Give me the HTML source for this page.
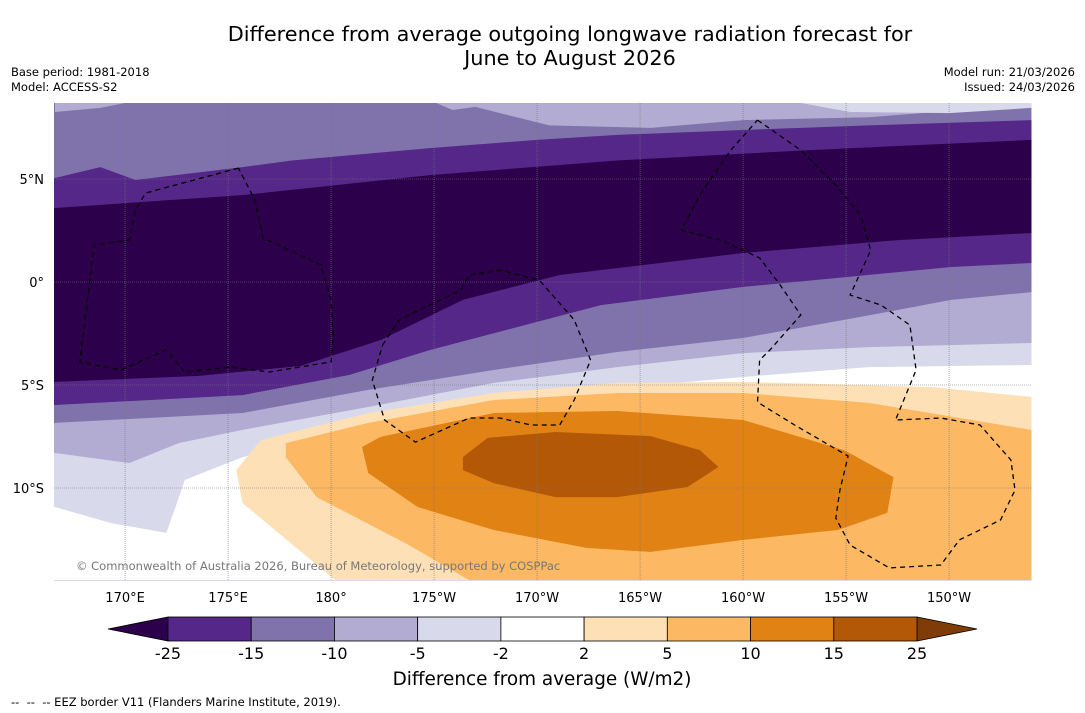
<!DOCTYPE html>
<html><head><meta charset="utf-8"><style>
body{margin:0;background:#fff;font-family:"DejaVu Sans","Liberation Sans",sans-serif;}
#wrap{position:relative;width:1085px;height:713px;overflow:hidden;background:#fff}
.t{position:absolute;color:#000;white-space:nowrap}
svg text{font-family:"DejaVu Sans","Liberation Sans",sans-serif}
</style></head><body>
<div id="wrap">
<div class="t" style="left:0;width:1140px;text-align:center;top:22px;font-size:20.8px;line-height:24px">Difference from average outgoing longwave radiation forecast for<br>June to August 2026</div>
<div class="t" style="left:11px;top:65px;font-size:11.5px;line-height:15px">Base period: 1981-2018<br>Model: ACCESS-S2</div>
<div class="t" style="right:10px;top:65px;font-size:11.5px;line-height:15px;text-align:right">Model run: 21/03/2026<br>Issued: 24/03/2026</div>
<div class="t" style="left:11px;top:695px;font-size:11.5px">--&nbsp; --&nbsp; -- EEZ border V11 (Flanders Marine Institute, 2019).</div>
<svg id="svg" width="1085" height="713" style="position:absolute;left:0;top:0"></svg>
</div>
<script>
const lonMin=166.55,lonMax=214.0,latMax=8.69,latMin=-14.47;
const X=lon=>54+(lon-lonMin)*20.6, Y=lat=>282-lat*20.6;
const L2=[[166.6,5.05],[168.8,5.58],[170.5,4.95],[175.7,5.58],[178.1,5.9],[184.8,6.5],[190.0,6.9],[193.9,7.14],[200.0,7.38],[206.1,7.6],[214.0,7.86]];
const L3=[[166.6,3.59],[175.7,4.22],[184.8,5.19],[193.9,5.9],[203.1,6.4],[214.0,6.9]];
const L4=[[166.6,-4.85],[173.6,-4.56],[178.5,-4.08],[182.4,-2.82],[186.4,-0.87],[191.1,0.34],[200.0,1.41],[207.6,2.04],[214.0,2.38]];
const L5=[[166.6,-5.97],[175.7,-5.49],[180.9,-4.51],[184.8,-3.3],[188.5,-2.33],[193.1,-1.12],[200.0,-0.24],[210.1,0.73],[214.0,0.92]];
const L6=[[166.6,-6.84],[175.7,-6.36],[181.8,-5.24],[187.9,-4.27],[193.9,-3.4],[200.0,-2.72],[206.2,-1.6],[210.1,-0.87],[214.0,-0.49]];
const L7=[[166.6,-8.3],[170.2,-8.79],[172.6,-7.82],[175.7,-7.18],[181.8,-6.07],[187.9,-4.9],[193.9,-4.13],[200.0,-3.45],[206.1,-3.16],[214.0,-2.96]];
const L8=[[166.6,-10.92],[169.3,-11.7],[172.0,-12.18],[172.4,-11.07],[172.9,-9.61],[175.7,-8.5],[181.8,-7.18],[187.9,-6.07],[193.9,-5.15],[200.0,-4.61],[206.1,-4.13],[214.0,-4.03]];
const O1=[[180.2,-14.47],[175.7,-10.73],[175.4,-9.13],[176.6,-7.67],[181.8,-6.36],[187.9,-5.39],[193.9,-4.9],[200.0,-4.85],[209.2,-5.1],[214.0,-5.58],[214.0,-14.47]];
const O2=[[186.7,-14.47],[183.6,-12.67],[179.3,-10.44],[177.8,-8.5],[177.8,-7.82],[181.8,-6.84],[187.9,-5.73],[193.9,-5.39],[200.0,-5.39],[206.1,-5.87],[214.0,-7.18],[214.0,-14.47]];
const O3=[[181.5,-8.01],[182.4,-7.52],[187.9,-6.36],[193.9,-6.26],[200.0,-6.7],[204.9,-8.16],[207.3,-9.47],[207.0,-11.21],[204.6,-12.04],[200.0,-12.52],[195.5,-13.1],[192.4,-12.91],[187.9,-12.04],[184.2,-10.92],[181.8,-9.27]];
const O4=[[186.4,-8.5],[187.6,-7.57],[190.9,-7.28],[195.5,-7.48],[197.9,-8.16],[198.8,-8.98],[197.3,-9.95],[193.9,-10.44],[190.9,-10.44],[187.9,-9.76],[186.4,-9.13]];
const topB=[[185.1,8.69],[185.9,8.35],[187.0,8.5],[188.2,8.2],[190.6,7.6],[195.5,7.48],[200.0,7.86],[206.1,8.0],[214.0,8.6],[214.0,8.69]];
const topL=[[166.6,8.69],[166.6,8.25],[168.8,8.45],[170.0,8.69]];
const topD=[[202.8,8.69],[205.2,8.25],[210.0,8.2],[214.0,8.45],[214.0,8.69]];
const eez1=[[175.5,5.53],[171.0,4.32],[170.5,3.5],[170.2,2.04],[168.5,1.8],[167.8,-3.88],[169.8,-4.27],[172.0,-3.3],[172.9,-4.37],[175.1,-4.13],[177.0,-4.37],[180.0,-3.88],[180.1,-2.57],[180.0,-0.87],[179.5,0.83],[176.7,2.14],[176.3,3.98],[175.5,5.53]];
const eez2=[[182.5,-3.06],[183.3,-1.84],[186.3,-0.39],[186.7,0.34],[188.2,0.58],[190.1,0.1],[191.8,-1.84],[192.6,-3.79],[191.8,-5.73],[191.1,-6.94],[189.7,-6.94],[188.2,-6.6],[186.7,-6.6],[184.1,-7.77],[182.6,-6.7],[182.0,-4.76],[182.5,-3.06]];
const eez3=[[200.7,7.86],[202.8,6.4],[204.5,4.71],[205.7,3.25],[206.2,1.55],[205.2,-0.63],[206.7,-1.12],[208.1,-2.09],[208.4,-4.27],[207.4,-6.7],[209.6,-6.6],[211.5,-6.94],[213.0,-8.64],[213.2,-10.1],[212.5,-11.55],[210.5,-12.52],[209.6,-13.74],[207.1,-13.88],[205.2,-12.77],[204.5,-11.46],[204.7,-10.1],[205.1,-8.45],[202.5,-6.94],[200.7,-5.83],[200.8,-3.79],[201.3,-3.3],[202.8,-1.6],[201.8,-0.15],[200.8,1.17],[198.9,2.04],[197.0,2.52],[197.9,4.22],[199.4,6.4],[200.7,7.86]];
const lonTicks=[170,175,180,185,190,195,200,205,210];
const lonLabels=["170°E","175°E","180°","175°W","170°W","165°W","160°W","155°W","150°W"];
const latTicks=[5,0,-5,-10];
const latLabels=["5°N","0°","5°S","10°S"];
const cbLabels=["-25","-15","-10","-5","-2","2","5","10","15","25"];
const cbColors=["#542788","#8073ac","#b2abd2","#d8daeb","#ffffff","#fee0b6","#fdb863","#e08214","#b35806"];
const NS="http://www.w3.org/2000/svg";
const svg=document.getElementById('svg');
function mk(tag,attrs,parent){const e=document.createElementNS(NS,tag);for(const k in attrs)e.setAttribute(k,attrs[k]);(parent||svg).appendChild(e);return e;}
const pts=a=>a.map(p=>X(p[0]).toFixed(1)+','+Y(p[1]).toFixed(1)).join(' ');
const x0=X(lonMin),x1=X(lonMax),y0=Y(latMax),y1=Y(latMin);
const cp=mk('clipPath',{id:'mc'});mk('rect',{x:x0,y:y0,width:x1-x0,height:y1-y0},cp);
const g=mk('g',{'clip-path':'url(#mc)'});
let r=mk('rect',{x:x0,y:y0,width:x1-x0,height:y1-y0,fill:'#8073ac'},g);


function band(line,color,name){const p=line.concat([[lonMax+1,line[line.length-1][1]],[lonMax+1,latMin-1],[lonMin-1,latMin-1],[lonMin-1,line[0][1]]]);
 const e=mk('polygon',{points:pts(p),fill:color},g);
 
 }
function poly(a,color,name){const e=mk('polygon',{points:pts(a),fill:color},g);
 
 }
poly(topB,'#b2abd2','top-band-light');poly(topL,'#b2abd2','top-left-light');poly(topD,'#d8daeb','top-band-lightest');
band(L2,'#542788','band-minus15');band(L3,'#2d004b','band-minus25');band(L4,'#542788','band-minus15-south');
band(L5,'#8073ac','band-minus10');band(L6,'#b2abd2','band-minus5');band(L7,'#d8daeb','band-minus2');band(L8,'#ffffff','band-neutral');
poly(O1,'#fee0b6','band-plus2');poly(O2,'#fdb863','band-plus5');poly(O3,'#e08214','band-plus10');poly(O4,'#b35806','band-plus15');
lonTicks.forEach((v,i)=>{const l=mk('line',{x1:X(v),x2:X(v),y1:y0,y2:y1,stroke:'#777','stroke-width':0.6,'stroke-dasharray':'1,1'},g);
 
 
 const t=mk('text',{x:X(v),y:602,'text-anchor':'middle','font-size':13});t.textContent=lonLabels[i];
 
 });
latTicks.forEach((v,i)=>{const l=mk('line',{x1:x0,x2:x1,y1:Y(v),y2:Y(v),stroke:'#777','stroke-width':0.6,'stroke-dasharray':'1,1'},g);
 
 
 const t=mk('text',{x:44,y:Y(v)+5,'text-anchor':'end','font-size':13});t.textContent=latLabels[i];
 
 });
[eez1,eez2,eez3].forEach(a=>{const e=mk('polyline',{points:pts(a),fill:'none',stroke:'#000','stroke-width':1.3,'stroke-dasharray':'5,4'},g);
 
 });
const cr=mk('text',{x:76,y:570,'font-size':11.5,fill:'#777'});cr.textContent='© Commonwealth of Australia 2026, Bureau of Meteorology, supported by COSPPac';


const cbx0=168,cbx1=917,cby=617,cbh=24,bw=(cbx1-cbx0)/cbColors.length;
let tl=mk('polygon',{points:`108,629 ${cbx0},${cby} ${cbx0},${cby+cbh}`,fill:'#2d004b',stroke:'#000','stroke-width':0.8});


let tr=mk('polygon',{points:`977,629 ${cbx1},${cby} ${cbx1},${cby+cbh}`,fill:'#7f3b08',stroke:'#000','stroke-width':0.8});


cbColors.forEach((c,i)=>{const e=mk('rect',{x:cbx0+i*bw,y:cby,width:bw,height:cbh,fill:c,stroke:'#000','stroke-width':0.8});
 
 });
cbLabels.forEach((s,i)=>{const t=mk('text',{x:cbx0+i*bw,y:659,'text-anchor':'middle','font-size':16});t.textContent=s;
 
 });
const ct=mk('text',{x:542,y:685,'text-anchor':'middle','font-size':18.4});ct.textContent='Difference from average (W/m2)';


</script>
</body></html>
